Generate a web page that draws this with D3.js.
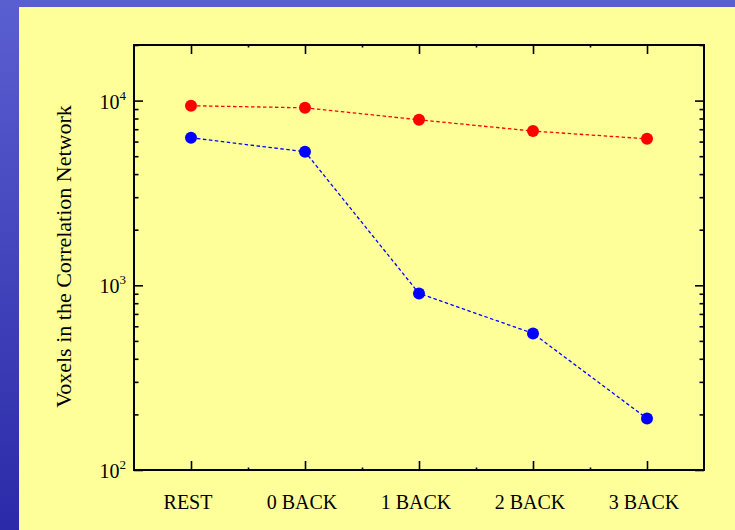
<!DOCTYPE html>
<html>
<head>
<meta charset="utf-8">
<script src="https://d3js.org/d3.v7.min.js"></script>
<style>
  body { margin: 0; background: #fff; }
  text { font-family: "Liberation Serif", "Times New Roman", serif; fill: #000; }
  .axis .domain { display: none; }
  .axis line { stroke: #000; stroke-width: 1.6; }
</style>
</head>
<body>
<svg id="chart" width="735" height="530"></svg>
<script>
// data
const conditions = ["REST", "0 BACK", "1 BACK", "2 BACK", "3 BACK"];
const redValues = [9380, 9140, 7870, 6840, 6210];
const blueValues = [6290, 5285, 904, 549, 190];
const decadeTicks = [100, 1000, 10000];
const decadeExponents = ["2", "3", "4"];

const svg = d3.select("svg#chart");
const width = +svg.attr("width");
const height = +svg.attr("height");
const margin = { top: 45, right: 31, bottom: 60, left: 134 };

// background: blue gradient with yellow slide panel
const defs = svg.append("defs");
const grad = defs.append("linearGradient").attr("id", "bg")
  .attr("x1", 0).attr("y1", 0).attr("x2", 0).attr("y2", 1);
grad.append("stop").attr("offset", "0%").attr("stop-color", "#5a5fd0");
grad.append("stop").attr("offset", "100%").attr("stop-color", "#2b2aa8");
svg.append("rect").attr("width", width).attr("height", height).attr("fill", "url(#bg)");
svg.append("rect").attr("x", 19).attr("y", 7)
  .attr("width", width - 19).attr("height", height - 7).attr("fill", "#ffff99");

const x = d3.scalePoint().domain(conditions)
  .range([margin.left, width - margin.right]).padding(0.5);
const y = d3.scaleLog().domain([100, 20000])
  .range([height - margin.bottom, margin.top]);

const plotL = margin.left, plotR = width - margin.right;
const plotT = margin.top, plotB = height - margin.bottom;

// minor ticks 2..9 per decade
let minorY = [];
[100, 1000, 10000].forEach(d => {
  for (let k = 2; k <= 9; k++) if (d * k <= 20000) minorY.push(d * k);
});
const midX = conditions.slice(1).map((c, i) => (x(conditions[i]) + x(c)) / 2);

// y ticks (left and right, pointing inward)
svg.append("g").attr("class", "axis").attr("transform", `translate(${plotL},0)`)
  .call(d3.axisLeft(y).tickValues(decadeTicks).tickSize(-9).tickFormat(""));
svg.append("g").attr("class", "axis").attr("transform", `translate(${plotL},0)`)
  .call(d3.axisLeft(y).tickValues(minorY).tickSize(-4.5).tickFormat(""));
svg.append("g").attr("class", "axis").attr("transform", `translate(${plotR},0)`)
  .call(d3.axisRight(y).tickValues(decadeTicks).tickSize(-9).tickFormat(""));
svg.append("g").attr("class", "axis").attr("transform", `translate(${plotR},0)`)
  .call(d3.axisRight(y).tickValues(minorY).tickSize(-4.5).tickFormat(""));

// x ticks (bottom and top, pointing inward)
svg.append("g").attr("class", "axis").attr("transform", `translate(0,${plotB})`)
  .call(d3.axisBottom(x).tickSize(-9).tickFormat(""));
svg.append("g").attr("class", "axis").attr("transform", `translate(0,${plotT})`)
  .call(d3.axisTop(x).tickSize(-9).tickFormat(""));
const xMinor = d3.scaleLinear().domain([0, width]).range([0, width]);
svg.append("g").attr("class", "axis").attr("transform", `translate(0,${plotB})`)
  .call(d3.axisBottom(xMinor).tickValues(midX).tickSize(-2.5).tickFormat(""));
svg.append("g").attr("class", "axis").attr("transform", `translate(0,${plotT})`)
  .call(d3.axisTop(xMinor).tickValues(midX).tickSize(-2.5).tickFormat(""));

// frame
svg.append("rect").attr("x", plotL).attr("y", plotT)
  .attr("width", plotR - plotL).attr("height", plotB - plotT)
  .attr("fill", "none").attr("stroke", "#000").attr("stroke-width", 2);

// y tick labels 10^n
decadeTicks.forEach((v, i) => {
  const t = svg.append("text")
    .attr("x", plotL - 8).attr("y", y(v) + 8)
    .attr("text-anchor", "end").style("font-size", "20px");
  t.append("tspan").text("10");
  t.append("tspan").attr("dy", -9).style("font-size", "13px").text(decadeExponents[i]);
});

// x tick labels
svg.append("g").selectAll("text").data(conditions).join("text")
  .attr("x", d => x(d) - 3).attr("y", plotB + 39)
  .attr("text-anchor", "middle").style("font-size", "20px")
  .text(d => d);

// y axis title
svg.append("text")
  .attr("transform", `translate(71,${(plotT + plotB) / 2 - 1}) rotate(-90)`)
  .attr("text-anchor", "middle").style("font-size", "22px")
  .text("Voxels in the Correlation Network");

// series
const series = [
  { color: "#ff0000", values: redValues },
  { color: "#0000ff", values: blueValues }
];
const line = d3.line().x(d => x(d.c)).y(d => y(d.v));
series.forEach(s => {
  const pts = conditions.map((c, i) => ({ c: c, v: s.values[i] }));
  svg.append("path").datum(pts).attr("d", line)
    .attr("fill", "none").attr("stroke", s.color)
    .attr("stroke-width", 1.3).attr("stroke-dasharray", "3.5,2.5");
  svg.append("g").selectAll("circle").data(pts).join("circle")
    .attr("cx", d => x(d.c)).attr("cy", d => y(d.v))
    .attr("r", 6).attr("fill", s.color);
});
</script>
</body>
</html>
